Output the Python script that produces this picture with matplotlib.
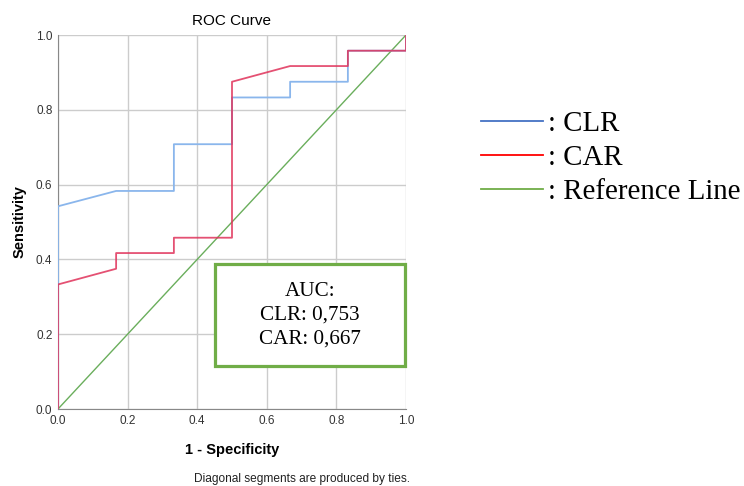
import matplotlib
matplotlib.use("Agg")
from matplotlib import pyplot as plt
from matplotlib.lines import Line2D

# ROC points (1 - specificity, sensitivity)
clr_fpr = [0, 0, 0.167, 0.333, 0.333, 0.5, 0.5, 0.667, 0.667, 0.833, 0.833, 1, 1]
clr_tpr = [0, 0.542, 0.583, 0.583, 0.708, 0.708, 0.833, 0.833, 0.875, 0.875, 0.958, 0.958, 1]
car_fpr = [0, 0, 0.167, 0.167, 0.333, 0.333, 0.5, 0.5, 0.667, 0.833, 0.833, 1, 1]
car_tpr = [0, 0.333, 0.375, 0.417, 0.417, 0.458, 0.458, 0.875, 0.917, 0.917, 0.958, 0.958, 1]
ref_line = [0, 1]
ticks = [0.0, 0.2, 0.4, 0.6, 0.8, 1.0]
auc_text = "AUC:\nCLR: 0,753\nCAR: 0,667"
legend_names = [": CLR", ": CAR", ": Reference Line"]

plt.rcParams["font.family"] = ["Liberation Sans", "DejaVu Sans"]

fig = plt.figure(figsize=(7.44, 4.86), dpi=100)
ax = fig.add_axes([58/744, 1 - 409/486, 348/744, 374/486])

ax.plot(ref_line, ref_line, color="#6aae5c", lw=1.0, zorder=3)
ax.plot(clr_fpr, clr_tpr, color="#8ab6ec", lw=1.3, zorder=4)
ax.plot(car_fpr, car_tpr, color="#e0325a", lw=1.3, alpha=0.85, zorder=5)

ax.set_xlim(0, 1)
ax.set_ylim(0, 1)
ax.set_xticks(ticks)
ax.set_yticks(ticks)
ax.set_xticklabels([f"{t:.1f}" for t in ticks])
ax.set_yticklabels([f"{t:.1f}" for t in ticks])
ax.tick_params(labelsize=8.5, colors="#333333", length=0, pad=4)
ax.grid(True, color="#cccccc", lw=1.0)
for side in ["top", "right"]:
    ax.spines[side].set_visible(False)
for side in ["left", "bottom"]:
    ax.spines[side].set_color("#888888")

ax.set_title("ROC Curve", fontsize=11, pad=7)
ax.set_xlabel("1 - Specificity", fontsize=10.5, fontweight="bold", labelpad=12)
ax.set_ylabel("Sensitivity", fontsize=10.5, fontweight="bold", labelpad=7)

# AUC box
box = plt.Rectangle((0.451, 0.115), 0.546, 0.273, fc="white",
                    ec="#70ad47", lw=2.3, zorder=5.5, clip_on=False)
ax.add_patch(box)
ax.text(0.724, 0.25, auc_text, ha="center", va="center", fontsize=15.2,
        family="Liberation Serif", linespacing=1.33, zorder=6)

fig.text(302/744, 1 - 479/486, "Diagonal segments are produced by ties.",
         ha="center", va="center", fontsize=8.6, color="#222222")

# legend on the right
handles = [Line2D([], [], color=c, lw=1.3) for c in ["#4472c4", "#ff0000", "#70ad47"]]
fig.legend(handles, legend_names, loc="upper left", bbox_to_anchor=(469/744, 1 - 99/486),
           frameon=False, prop={"family": "Liberation Serif", "size": 20.8},
           handlelength=2.15, handletextpad=0.2, labelspacing=0.27, borderaxespad=0)

fig.savefig("out.png", dpi=100)
